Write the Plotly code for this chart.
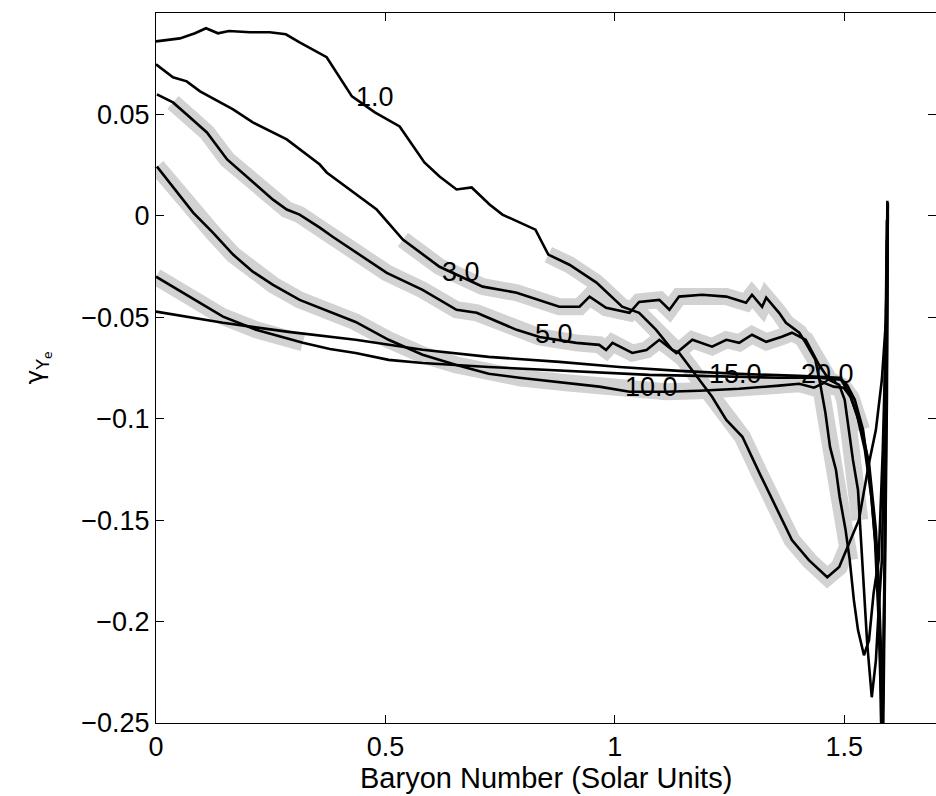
import plotly.graph_objects as go

# ---- data ----
x_t1 = [0, 0.030, 0.052, 0.085, 0.109, 0.135, 0.159, 0.205, 0.248, 0.283, 0.313, 0.372, 0.427, 0.477,
        0.531, 0.585, 0.618, 0.655, 0.688, 0.727, 0.755, 0.827, 0.855, 0.901, 0.960, 1.016, 1.053, 1.090,
        1.125, 1.140, 1.184, 1.212, 1.243, 1.278, 1.315, 1.358, 1.386, 1.423, 1.445, 1.463, 1.489, 1.506,
        1.532, 1.554, 1.569, 1.582, 1.591, 1.593, 1.594]
y_t1 = [0.0860, 0.0870, 0.0875, 0.0900, 0.0925, 0.0900, 0.0911, 0.0905, 0.0905, 0.0895, 0.0855, 0.0782,
        0.0589, 0.0510, 0.0441, 0.0263, 0.0194, 0.0130, 0.0140, 0.0056, 0.0006, -0.0068, -0.0191, -0.0241,
        -0.0329, -0.0448, -0.0478, -0.0562, -0.0660, -0.0675, -0.0808, -0.0892, -0.1006, -0.1089, -0.1267,
        -0.1464, -0.1598, -0.1697, -0.1746, -0.1781, -0.1731, -0.1637, -0.1499, -0.1218, -0.1055, -0.0808,
        -0.0512, -0.0216, 0.0075]

x_t3 = [0.0, 0.037, 0.067, 0.096, 0.168, 0.211, 0.285, 0.313, 0.357, 0.372, 0.481, 0.538, 0.618, 0.712,
        0.786, 0.879, 0.923, 0.945, 0.981, 1.032, 1.053, 1.097, 1.119, 1.140, 1.190, 1.243, 1.286, 1.299,
        1.321, 1.330, 1.358, 1.373, 1.402, 1.416, 1.437, 1.446, 1.459, 1.469, 1.482, 1.490, 1.503, 1.512,
        1.521, 1.530, 1.543, 1.554, 1.564, 1.575, 1.584, 1.591, 1.593]
y_t3 = [0.0747, 0.0683, 0.0663, 0.0614, 0.0525, 0.0461, 0.0377, 0.0327, 0.0253, 0.0214, 0.0031, -0.0117,
        -0.0251, -0.0349, -0.0379, -0.0448, -0.0448, -0.0398, -0.0453, -0.0478, -0.0424, -0.0414, -0.0463,
        -0.0398, -0.0389, -0.0398, -0.0428, -0.0389, -0.0448, -0.0403, -0.0478, -0.0527, -0.0576, -0.0626,
        -0.0709, -0.0808, -0.0971, -0.1139, -0.1253, -0.1386, -0.1549, -0.1697, -0.1894, -0.2042, -0.2166,
        -0.2092, -0.1860, -0.1697, -0.1154, -0.0561, -0.0117]

x_t5 = [0.002, 0.037, 0.067, 0.111, 0.155, 0.198, 0.255, 0.285, 0.313, 0.357, 0.385, 0.503, 0.581, 0.655,
        0.699, 0.786, 0.836, 0.916, 0.966, 0.981, 0.995, 1.038, 1.069, 1.097, 1.134, 1.169, 1.212, 1.243,
        1.271, 1.299, 1.330, 1.364, 1.386, 1.416, 1.430, 1.445, 1.467, 1.489, 1.501, 1.510, 1.519, 1.530,
        1.534, 1.541, 1.550, 1.560, 1.569, 1.575, 1.582, 1.588, 1.593]
y_t5 = [0.0599, 0.0559, 0.0500, 0.0411, 0.0278, 0.0194, 0.0080, 0.0031, 0.0006, -0.0058, -0.0103, -0.0281,
        -0.0365, -0.0463, -0.0478, -0.0562, -0.0597, -0.0626, -0.0636, -0.0661, -0.0626, -0.0676, -0.0661,
        -0.0611, -0.0676, -0.0611, -0.0645, -0.0611, -0.0626, -0.0586, -0.0621, -0.0596, -0.0576, -0.0611,
        -0.0670, -0.0734, -0.0808, -0.0833, -0.0907, -0.1055, -0.1203, -0.1351, -0.1499, -0.1795, -0.2107,
        -0.2373, -0.2191, -0.1944, -0.1697, -0.1006, -0.0019]

x_t10 = [0.002, 0.037, 0.081, 0.124, 0.168, 0.211, 0.255, 0.313, 0.363, 0.435, 0.507, 0.581, 0.653, 0.725,
         0.792, 0.894, 0.966, 1.032, 1.112, 1.184, 1.271, 1.358, 1.402, 1.434, 1.456, 1.477, 1.499, 1.515,
         1.528, 1.538, 1.554, 1.560, 1.569, 1.575, 1.580, 1.584, 1.588, 1.593, 1.595]
y_t10 = [0.0243, 0.0145, 0.0016, -0.0083, -0.0191, -0.0275, -0.0340, -0.0414, -0.0458, -0.0523, -0.0611,
         -0.0685, -0.0734, -0.0778, -0.0798, -0.0823, -0.0842, -0.0867, -0.0867, -0.0862, -0.0852, -0.0837,
         -0.0828, -0.0847, -0.0823, -0.0842, -0.0847, -0.0897, -0.0981, -0.1055, -0.1218, -0.1351, -0.1549,
         -0.1795, -0.2141, -0.2734, -0.1894, -0.0907, 0.0066]

x_t15 = [0.0, 0.072, 0.146, 0.218, 0.270, 0.320, 0.379, 0.435, 0.507, 0.581, 0.725, 0.857, 0.966, 1.075,
         1.184, 1.271, 1.358, 1.445, 1.493, 1.510, 1.528, 1.545, 1.560, 1.571, 1.578, 1.582, 1.588, 1.593,
         1.595]
y_t15 = [-0.0300, -0.0398, -0.0497, -0.0561, -0.0596, -0.0626, -0.0656, -0.0676, -0.0710, -0.0725, -0.0745,
         -0.0759, -0.0774, -0.0784, -0.0789, -0.0794, -0.0798, -0.0798, -0.0808, -0.0868, -0.0981, -0.1154,
         -0.1400, -0.1697, -0.2092, -0.2734, -0.1795, -0.0660, 0.0006]

x_t20 = [0.0, 0.146, 0.289, 0.435, 0.581, 0.725, 0.879, 1.010, 1.140, 1.271, 1.402, 1.489, 1.506, 1.523,
         1.541, 1.556, 1.567, 1.575, 1.580, 1.582, 1.588, 1.593, 1.595]
y_t20 = [-0.0472, -0.0527, -0.0572, -0.0611, -0.0660, -0.0695, -0.0720, -0.0745, -0.0764, -0.0779, -0.0789,
         -0.0798, -0.0833, -0.0907, -0.1055, -0.1302, -0.1598, -0.1993, -0.2388, -0.2734, -0.1697, -0.0561,
         0.0056]

curve_labels = ["1.0", "3.0", "5.0", "10.0", "15.0", "20.0"]
curve_x = [x_t1, x_t3, x_t5, x_t10, x_t15, x_t20]
curve_y = [y_t1, y_t3, y_t5, y_t10, y_t15, y_t20]
# shaded (gray) portion of each curve, as x-intervals (None = no shading)
shade_ranges = [(0.85, 1.51), (0.53, 1.515), (0.036, 1.536), (0.0, 1.545), (0.0, 0.32), None]

# contour-style label positions (x, y) for each curve
label_x = [0.477, 0.664, 0.868, 1.079, 1.264, 1.4625]
label_y = [0.0584, -0.0279, -0.0581, -0.0843, -0.0778, -0.0778]

x_ticks = [0, 0.5, 1, 1.5]
x_ticktext = ["0", "0.5", "1", "1.5"]
y_ticks = [-0.25, -0.2, -0.15, -0.1, -0.05, 0, 0.05]
y_ticktext = ["\u22120.25", "\u22120.2", "\u22120.15", "\u22120.1", "\u22120.05", "0", "0.05"]

FONT = "Liberation Sans, Arial, Helvetica, sans-serif"

fig = go.Figure()

# gray shading underneath
for xs, ys, rng in zip(curve_x, curve_y, shade_ranges):
    assert len(xs) == len(ys)
    if rng is None:
        continue
    sx = [a for a, b in zip(xs, ys) if rng[0] <= a <= rng[1]]
    sy = [b for a, b in zip(xs, ys) if rng[0] <= a <= rng[1]]
    fig.add_trace(go.Scatter(x=sx, y=sy, mode="lines",
                             line=dict(color="rgb(210,210,210)", width=17),
                             hoverinfo="skip", showlegend=False))

# black curves
for xs, ys, name in zip(curve_x, curve_y, curve_labels):
    fig.add_trace(go.Scatter(x=xs, y=ys, mode="lines", name=name,
                             line=dict(color="black", width=2.6),
                             showlegend=False))

for lx, ly, txt in zip(label_x, label_y, curve_labels):
    fig.add_annotation(x=lx, y=ly, text=txt, showarrow=False,
                       font=dict(family=FONT, size=27, color="black"),
                       xanchor="center", yanchor="middle")

axis_common = dict(ticks="inside", ticklen=8, tickwidth=1, tickcolor="black",
                   showline=True, linecolor="black", linewidth=1, mirror="ticks",
                   showgrid=False, zeroline=False,
                   tickfont=dict(family=FONT, size=27, color="black"))

fig.update_xaxes(range=[0, 1.7], tickvals=x_ticks, ticktext=x_ticktext, **axis_common)
fig.update_yaxes(range=[-0.25, 0.1], tickvals=y_ticks, ticktext=y_ticktext, **axis_common)

fig.add_annotation(xref="paper", yref="paper", x=0.5, y=-0.0775,
                   text="Baryon Number (Solar Units)", showarrow=False,
                   font=dict(family=FONT, size=29, color="black"),
                   xanchor="center", yanchor="middle")
fig.add_annotation(xref="paper", yref="paper", x=-0.152, y=0.5,
                   text="\u03b3<sub>Y<sub>e</sub></sub>", showarrow=False, textangle=-90,
                   font=dict(family="DejaVu Sans, sans-serif", size=25, color="black"),
                   xanchor="center", yanchor="middle")

fig.update_layout(width=936, height=796,
                  margin=dict(l=156, r=0, t=13, b=73, pad=0),
                  plot_bgcolor="white", paper_bgcolor="white")

fig.write_html("out.html")
